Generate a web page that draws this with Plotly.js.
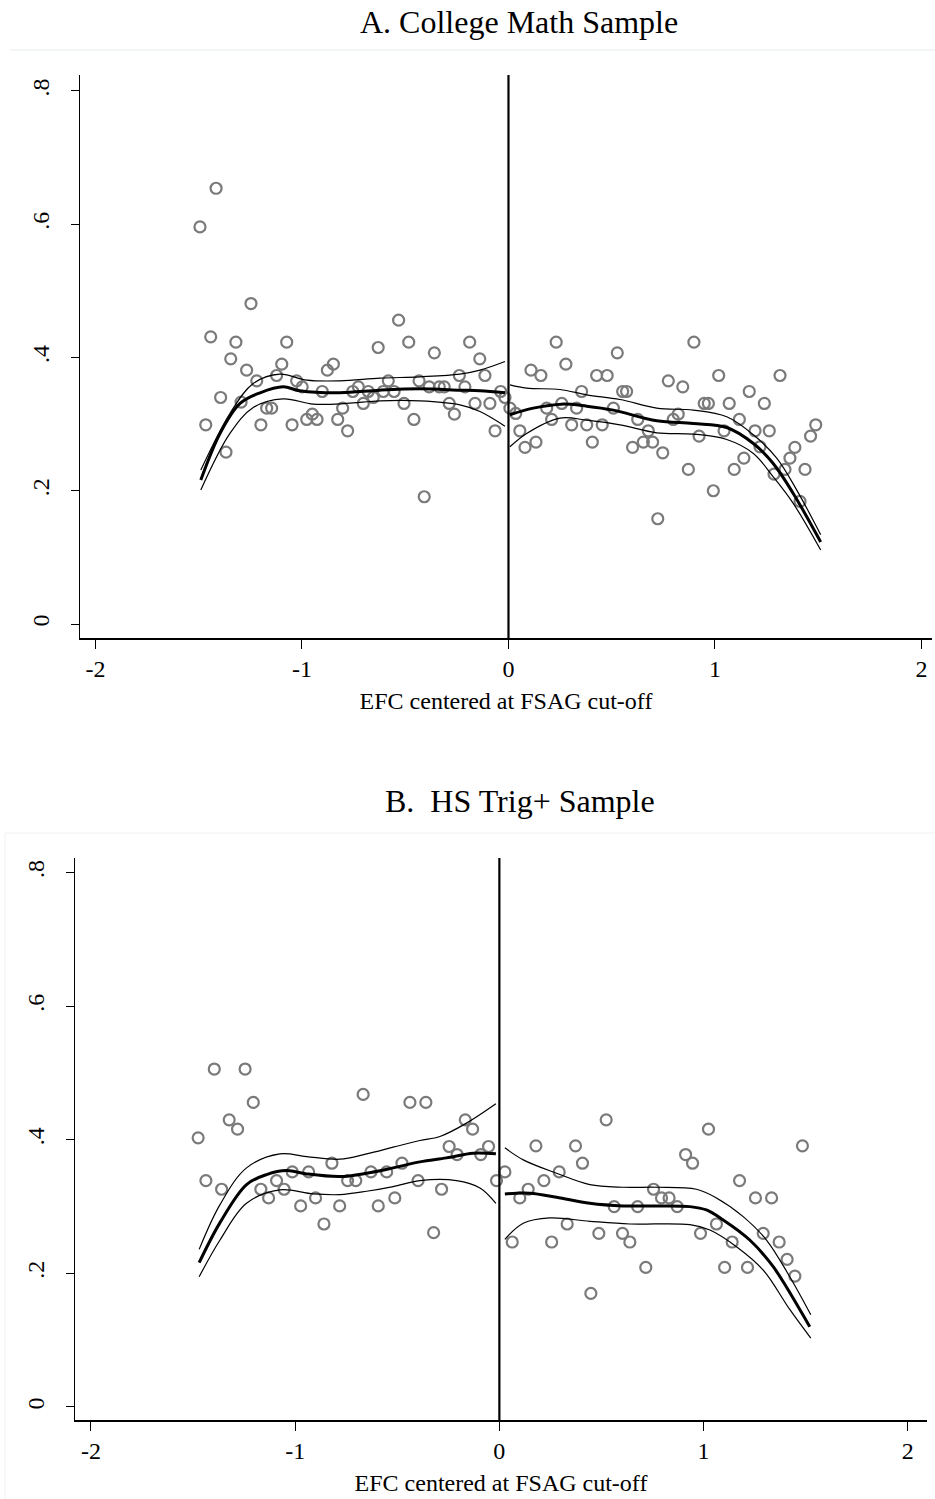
<!DOCTYPE html>
<html>
<head>
<meta charset="utf-8">
<script src="https://cdn.plot.ly/plotly-3.0.1.min.js"></script>
<style>html,body{margin:0;padding:0;background:#fff;}#chart{width:935px;height:1499px;}</style>
</head>
<body>
<div id="chart"></div>
<script>
// ---------- Panel A: College Math Sample ----------
const aLeftX = [-1.494,-1.466,-1.442,-1.416,-1.394,-1.368,-1.345,-1.320,-1.295,-1.268,-1.247,-1.219,-1.199,-1.171,-1.147,-1.123,-1.098,-1.074,-1.048,-1.026,-0.999,-0.977,-0.950,-0.927,-0.902,-0.877,-0.848,-0.827,-0.803,-0.779,-0.754,-0.727,-0.703,-0.679,-0.655,-0.631,-0.606,-0.582,-0.554,-0.532,-0.506,-0.483,-0.458,-0.433,-0.408,-0.384,-0.359,-0.335,-0.311,-0.287,-0.262,-0.238,-0.211,-0.188,-0.162,-0.139,-0.114,-0.090,-0.065,-0.038,-0.017];
const aLeftY = [0.596,0.299,0.431,0.654,0.340,0.258,0.398,0.423,0.333,0.381,0.481,0.365,0.299,0.324,0.324,0.373,0.390,0.423,0.299,0.365,0.356,0.307,0.315,0.307,0.349,0.381,0.390,0.307,0.324,0.290,0.349,0.356,0.331,0.349,0.340,0.415,0.349,0.365,0.349,0.456,0.331,0.423,0.307,0.365,0.191,0.356,0.407,0.356,0.356,0.331,0.315,0.373,0.356,0.423,0.331,0.398,0.373,0.331,0.290,0.349,0.340];
const aRightX = [0.007,0.035,0.055,0.080,0.109,0.133,0.157,0.185,0.209,0.231,0.258,0.278,0.306,0.330,0.354,0.379,0.406,0.427,0.454,0.478,0.508,0.527,0.553,0.572,0.601,0.626,0.653,0.677,0.698,0.723,0.747,0.774,0.798,0.822,0.844,0.871,0.898,0.923,0.948,0.968,0.992,1.018,1.044,1.069,1.093,1.118,1.140,1.166,1.194,1.218,1.239,1.263,1.286,1.315,1.339,1.363,1.387,1.412,1.436,1.463,1.488];
const aRightY = [0.324,0.316,0.290,0.265,0.381,0.273,0.373,0.324,0.307,0.423,0.331,0.390,0.299,0.324,0.349,0.299,0.273,0.373,0.299,0.373,0.324,0.407,0.349,0.349,0.265,0.307,0.273,0.290,0.273,0.158,0.257,0.365,0.307,0.315,0.356,0.232,0.423,0.282,0.331,0.331,0.200,0.373,0.290,0.331,0.232,0.307,0.249,0.349,0.290,0.266,0.331,0.290,0.225,0.373,0.232,0.249,0.265,0.184,0.232,0.282,0.299];

const aFitLX = [-1.490,-1.397,-1.300,-1.203,-1.091,-1.010,-0.816,-0.622,-0.429,-0.235,-0.138,-0.017];
const aFitLY = [0.216,0.286,0.331,0.347,0.356,0.350,0.347,0.351,0.353,0.351,0.350,0.347];
const aHiLX  = [-1.490,-1.349,-1.236,-1.107,-0.977,-0.816,-0.622,-0.429,-0.235,-0.138,-0.017];
const aHiLY  = [0.231,0.316,0.361,0.375,0.366,0.365,0.369,0.371,0.375,0.381,0.394];
const aLoLX  = [-1.490,-1.349,-1.236,-1.091,-0.945,-0.784,-0.622,-0.429,-0.235,-0.138,-0.017];
const aLoLY  = [0.201,0.286,0.325,0.338,0.330,0.331,0.335,0.335,0.329,0.319,0.297];

const aFitRX = [0.007,0.120,0.258,0.379,0.508,0.718,0.895,1.057,1.186,1.282,1.379,1.512];
const aFitRY = [0.314,0.324,0.330,0.327,0.321,0.305,0.301,0.295,0.271,0.241,0.196,0.123];
const aHiRX  = [0.007,0.088,0.249,0.379,0.540,0.718,0.895,1.057,1.186,1.299,1.396,1.512];
const aHiRY  = [0.359,0.354,0.352,0.344,0.337,0.324,0.321,0.311,0.284,0.249,0.201,0.134];
const aLoRX  = [0.007,0.088,0.249,0.379,0.540,0.718,0.895,1.057,1.186,1.282,1.379,1.512];
const aLoRY  = [0.266,0.286,0.309,0.306,0.299,0.287,0.285,0.277,0.256,0.221,0.181,0.111];

// ---------- Panel B: HS Trig+ Sample ----------
const bLeftX = [-1.475,-1.437,-1.396,-1.360,-1.323,-1.282,-1.245,-1.205,-1.168,-1.130,-1.091,-1.054,-1.014,-0.973,-0.934,-0.900,-0.859,-0.820,-0.782,-0.743,-0.703,-0.667,-0.629,-0.593,-0.552,-0.512,-0.477,-0.438,-0.398,-0.360,-0.322,-0.283,-0.246,-0.207,-0.167,-0.131,-0.091,-0.053,-0.014];
const bLeftY = [0.403,0.339,0.506,0.326,0.430,0.416,0.506,0.456,0.326,0.313,0.339,0.326,0.352,0.301,0.352,0.313,0.274,0.365,0.301,0.339,0.339,0.468,0.352,0.301,0.352,0.313,0.365,0.456,0.339,0.456,0.261,0.326,0.390,0.378,0.430,0.416,0.378,0.390,0.339];
const bRightX = [0.027,0.063,0.100,0.141,0.179,0.218,0.256,0.293,0.332,0.373,0.407,0.448,0.487,0.523,0.562,0.603,0.639,0.677,0.717,0.755,0.794,0.831,0.871,0.912,0.946,0.985,1.024,1.063,1.103,1.140,1.176,1.215,1.254,1.292,1.333,1.370,1.409,1.447,1.484];
const bRightY = [0.352,0.247,0.313,0.326,0.391,0.339,0.247,0.352,0.274,0.391,0.365,0.170,0.260,0.430,0.300,0.260,0.247,0.300,0.209,0.326,0.313,0.313,0.300,0.378,0.365,0.260,0.416,0.274,0.209,0.247,0.339,0.209,0.313,0.260,0.313,0.247,0.221,0.196,0.391];

const bFitLX = [-1.470,-1.368,-1.238,-1.140,-1.042,-0.944,-0.781,-0.650,-0.520,-0.389,-0.259,-0.128,-0.017];
const bFitLY = [0.216,0.276,0.333,0.348,0.354,0.349,0.345,0.350,0.358,0.367,0.373,0.380,0.379];
const bHiLX  = [-1.470,-1.368,-1.238,-1.075,-0.944,-0.781,-0.650,-0.520,-0.389,-0.291,-0.161,-0.017];
const bHiLY  = [0.236,0.303,0.358,0.379,0.375,0.371,0.379,0.389,0.399,0.405,0.425,0.454];
const bLoLX  = [-1.470,-1.368,-1.238,-1.075,-0.912,-0.781,-0.650,-0.520,-0.389,-0.210,-0.095,-0.017];
const bLoLY  = [0.195,0.250,0.305,0.325,0.319,0.318,0.323,0.330,0.339,0.339,0.328,0.305];

const bFitRX = [0.027,0.149,0.280,0.443,0.606,0.770,0.933,1.014,1.096,1.226,1.341,1.471,1.520];
const bFitRY = [0.319,0.320,0.314,0.305,0.301,0.301,0.300,0.295,0.280,0.250,0.210,0.146,0.120];
const bHiRX  = [0.027,0.117,0.280,0.443,0.606,0.770,0.965,1.063,1.194,1.308,1.422,1.525];
const bHiRY  = [0.388,0.370,0.350,0.333,0.329,0.329,0.326,0.313,0.285,0.250,0.195,0.138];
const bLoRX  = [0.027,0.117,0.247,0.443,0.639,0.933,1.031,1.161,1.292,1.422,1.525];
const bLoRY  = [0.251,0.275,0.283,0.278,0.274,0.273,0.265,0.240,0.205,0.146,0.103];

const xTicks = [-2,-1,0,1,2];
const xTickText = ['-2','-1','0','1','2'];
const yTicks = [0,0.2,0.4,0.6,0.8];
const yTickText = ['0','.2','.4','.6','.8'];

const titleA = 'A. College Math Sample';
const titleB = 'B.&nbsp; HS Trig+ Sample';
const xTitle = 'EFC centered at FSAG cut-off';

// ---------- build ----------
const W = 935, H = 1499;
const FONT = 'Liberation Serif, Times New Roman, serif';
const dotStyle = {symbol:'circle-open', size:11, color:'#7a7a7a', line:{width:2.2, color:'#7a7a7a'}};

function scatter(x, y, xa, ya) {
  return {x:x, y:y, xaxis:xa, yaxis:ya, type:'scatter', mode:'markers', marker:dotStyle, hoverinfo:'skip'};
}
function line(x, y, xa, ya, w) {
  return {x:x, y:y, xaxis:xa, yaxis:ya, type:'scatter', mode:'lines',
          line:{color:'#000', width:w, shape:'spline', smoothing:1}, hoverinfo:'skip'};
}

const traces = [
  scatter(aLeftX, aLeftY, 'x', 'y'), scatter(aRightX, aRightY, 'x', 'y'),
  line(aHiLX, aHiLY, 'x', 'y', 1.2), line(aLoLX, aLoLY, 'x', 'y', 1.2), line(aFitLX, aFitLY, 'x', 'y', 3),
  line(aHiRX, aHiRY, 'x', 'y', 1.2), line(aLoRX, aLoRY, 'x', 'y', 1.2), line(aFitRX, aFitRY, 'x', 'y', 3),
  scatter(bLeftX, bLeftY, 'x2', 'y2'), scatter(bRightX, bRightY, 'x2', 'y2'),
  line(bHiLX, bHiLY, 'x2', 'y2', 1.2), line(bLoLX, bLoLY, 'x2', 'y2', 1.2), line(bFitLX, bFitLY, 'x2', 'y2', 3),
  line(bHiRX, bHiRY, 'x2', 'y2', 1.2), line(bLoRX, bLoRY, 'x2', 'y2', 1.2), line(bFitRX, bFitRY, 'x2', 'y2', 3)
];

function px(x) { return x / W; }
function py(y) { return 1 - y / H; }

function xaxisDef(d0, d1, range, anchor) {
  return {domain:[px(d0), px(d1)], range:range, anchor:anchor,
    tickvals:xTicks, ticktext:xTickText, ticks:'outside', ticklen:9, tickwidth:1, tickcolor:'#000',
    showline:true, linecolor:'#000', linewidth:1.5, showgrid:false, zeroline:false,
    tickfont:{family:FONT, size:24, color:'#000'},
    title:{text:xTitle, font:{family:FONT, size:24, color:'#000'}, standoff:11}};
}
function yaxisDef(d0, d1, range, anchor) {
  return {domain:[py(d1), py(d0)], range:range, anchor:anchor,
    tickvals:yTicks, ticktext:yTickText, ticks:'outside', ticklen:8, tickwidth:1, tickcolor:'#000',
    tickangle:-90, ticklabelstandoff:12,
    showline:true, linecolor:'#000', linewidth:1.5, showgrid:false, zeroline:false,
    tickfont:{family:FONT, size:24, color:'#000'}};
}

const layout = {
  width:W, height:H, margin:{l:0, r:0, t:0, b:0},
  paper_bgcolor:'#fff', plot_bgcolor:'#fff', showlegend:false,
  xaxis: xaxisDef(80, 932, [-2.075, 2.051], 'y'),
  yaxis: yaxisDef(75, 638, [-0.021, 0.824], 'x'),
  xaxis2: xaxisDef(75, 927, [-2.078, 2.094], 'y2'),
  yaxis2: yaxisDef(858, 1420, [-0.0195, 0.822], 'x2'),
  shapes: [
    {type:'line', xref:'x', yref:'y domain', x0:0, x1:0, y0:0, y1:1, line:{color:'#000', width:2.2}},
    {type:'line', xref:'x2', yref:'y2 domain', x0:0, x1:0, y0:0, y1:1, line:{color:'#000', width:2.2}},
    {type:'line', xref:'paper', yref:'paper', x0:px(10), x1:1, y0:py(50), y1:py(50), line:{color:'#e4ecec', width:1}},
    {type:'line', xref:'paper', yref:'paper', x0:px(5), x1:1, y0:py(833), y1:py(833), line:{color:'#eef2f2', width:1}},
    {type:'line', xref:'paper', yref:'paper', x0:px(5), x1:px(5), y0:py(833), y1:0, line:{color:'#eef2f2', width:1}}
  ],
  annotations: [
    {text:titleA, xref:'paper', yref:'paper', x:px(519), y:py(22), xanchor:'center', yanchor:'middle',
     showarrow:false, font:{family:FONT, size:32, color:'#000'}},
    {text:titleB, xref:'paper', yref:'paper', x:px(520), y:py(801), xanchor:'center', yanchor:'middle',
     showarrow:false, font:{family:FONT, size:32, color:'#000'}}
  ]
};

Plotly.newPlot('chart', traces, layout, {staticPlot:true, displayModeBar:false});
</script>
</body>
</html>
